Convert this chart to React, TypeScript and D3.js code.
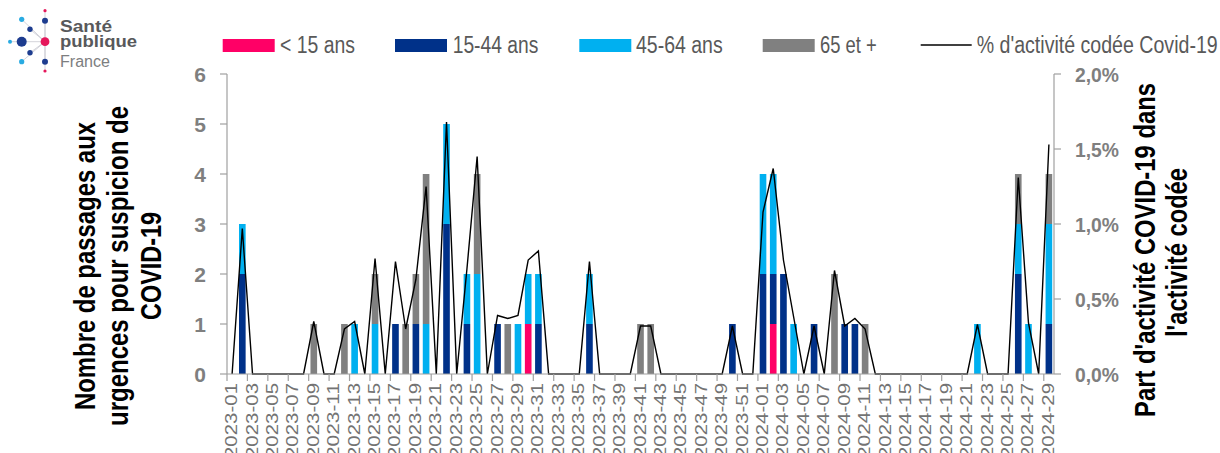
import React from 'react';
import * as d3 from 'd3';

// ---------- DATA ----------
const weeks: string[] = [
  ...d3.range(1, 53).map((w) => `2023-${String(w).padStart(2, '0')}`),
  ...d3.range(1, 30).map((w) => `2024-${String(w).padStart(2, '0')}`),
];

const under15 = [
  0, 0, 0, 0, 0, 0, 0, 0, 0, 0,
  0, 0, 0, 0, 0, 0, 0, 0, 0, 0,
  0, 0, 0, 0, 0, 0, 0, 0, 0, 1,
  0, 0, 0, 0, 0, 0, 0, 0, 0, 0,
  0, 0, 0, 0, 0, 0, 0, 0, 0, 0,
  0, 0, 0, 1, 0, 0, 0, 0, 0, 0,
  0, 0, 0, 0, 0, 0, 0, 0, 0, 0,
  0, 0, 0, 0, 0, 0, 0, 0, 0, 0,
  0,
];
const age15to44 = [
  0, 2, 0, 0, 0, 0, 0, 0, 0, 0,
  0, 0, 0, 0, 0, 0, 1, 0, 1, 0,
  0, 3, 0, 1, 0, 0, 1, 0, 0, 0,
  1, 0, 0, 0, 0, 1, 0, 0, 0, 0,
  0, 0, 0, 0, 0, 0, 0, 0, 0, 1,
  0, 0, 2, 1, 2, 0, 0, 1, 0, 0,
  1, 1, 0, 0, 0, 0, 0, 0, 0, 0,
  0, 0, 0, 0, 0, 0, 0, 2, 0, 0,
  1,
];
const age45to64 = [
  0, 1, 0, 0, 0, 0, 0, 0, 0, 0,
  0, 0, 1, 0, 1, 0, 0, 0, 0, 1,
  0, 2, 0, 1, 2, 0, 0, 0, 1, 1,
  1, 0, 0, 0, 0, 1, 0, 0, 0, 0,
  0, 0, 0, 0, 0, 0, 0, 0, 0, 0,
  0, 0, 2, 2, 0, 1, 0, 0, 0, 0,
  0, 0, 0, 0, 0, 0, 0, 0, 0, 0,
  0, 0, 0, 1, 0, 0, 0, 1, 1, 0,
  2,
];
const age65plus = [
  0, 0, 0, 0, 0, 0, 0, 0, 1, 0,
  0, 1, 0, 0, 1, 0, 0, 1, 1, 3,
  0, 0, 0, 0, 2, 0, 0, 1, 0, 0,
  0, 0, 0, 0, 0, 0, 0, 0, 0, 0,
  1, 1, 0, 0, 0, 0, 0, 0, 0, 0,
  0, 0, 0, 0, 0, 0, 0, 0, 0, 2,
  0, 0, 1, 0, 0, 0, 0, 0, 0, 0,
  0, 0, 0, 0, 0, 0, 0, 1, 0, 0,
  1,
];
// % d'activité codée Covid-19
const pctCovid = [
  0, 0.97, 0, 0, 0, 0, 0, 0, 0.35, 0,
  0, 0.30, 0.35, 0, 0.77, 0, 0.75, 0.30, 0.63, 1.25,
  0, 1.68, 0, 0.70, 1.45, 0, 0.39, 0.37, 0.39, 0.76,
  0.82, 0, 0, 0, 0, 0.75, 0, 0, 0, 0,
  0.32, 0.32, 0, 0, 0, 0, 0, 0, 0, 0.32,
  0, 0, 1.08, 1.37, 0.76, 0.38, 0, 0.32, 0, 0.69,
  0.32, 0.37, 0.30, 0, 0, 0, 0, 0, 0, 0,
  0, 0, 0, 0.33, 0, 0, 0, 1.31, 0.34, 0,
  1.53,
];

const seriesKeys = ['u15', 'a1544', 'a4564', 'a65'];
const seriesNames = ['< 15 ans', '15-44 ans', '45-64 ans', '65 et +'];
const seriesColors = ['#FF0066', '#003189', '#00B0F0', '#808080'];
const lineName = "% d'activité codée Covid-19";

const leftTicks = [0, 1, 2, 3, 4, 5, 6];
const rightTicks = [0, 0.5, 1, 1.5, 2];

const leftTitle = ['Nombre de passages aux', 'urgences pour suspicion de', 'COVID-19'];
const rightTitle = ["Part d'activité COVID-19 dans", "l'activité codée"];

// ---------- LAYOUT ----------
const W = 1220;
const H = 453;
const L = 227;
const R = 1054;
const T = 74;
const B = 374;
const FONT = "'Liberation Sans Narrow', 'Arial Narrow', 'Liberation Sans', Arial, sans-serif";
const AXIS = '#a0a0a0';

export default function App() {
  const x = d3
    .scaleBand<string>()
    .domain(weeks)
    .range([L, R])
    .paddingInner(0.35)
    .paddingOuter(0.175);
  const step = x.step();
  const y = d3.scaleLinear().domain([0, 6]).range([B, T]);
  const y2 = d3.scaleLinear().domain([0, 2]).range([B, T]);

  const rows = weeks.map((w, i) => ({
    week: w,
    u15: under15[i],
    a1544: age15to44[i],
    a4564: age45to64[i],
    a65: age65plus[i],
  }));
  const stacked = d3.stack<any>().keys(seriesKeys)(rows);

  const line = d3
    .line<number>()
    .x((_, i) => (x(weeks[i]) as number) + x.bandwidth() / 2)
    .y((d) => y2(d));

  const tickIdx = d3.range(0, weeks.length + 1, 2);

  const legendRects = [222.7, 395, 579.3, 762.7];
  const legendTexts = [
    { x: 280, len: 75 },
    { x: 452.7, len: 85.6 },
    { x: 636, len: 86.7 },
    { x: 820, len: 56.7 },
  ];

  return (
    <svg
      width={W}
      height={H}
      style={{ position: 'absolute', left: 0, top: 0, background: '#fff' }}
      fontFamily={FONT}
    >
      {/* Logo */}
      <g>
        {[
          [45, 10.7, 45, 41.7],
          [45, 20.7, 45, 41.7],
          [21.7, 19.3, 45, 41.7],
          [30, 29.3, 45, 41.7],
          [10, 41.7, 45, 41.7],
          [30, 52.7, 45, 41.7],
          [21.7, 61.7, 45, 41.7],
          [45, 61.7, 45, 41.7],
          [45, 71, 45, 41.7],
        ].map((l, i) => (
          <line key={i} x1={l[0]} y1={l[1]} x2={l[2]} y2={l[3]} stroke="#c8c8d0" strokeWidth={0.8} />
        ))}
        {[
          [45, 10.7, 1.6, '#e5175b'],
          [45, 20.7, 3, '#1d3c8f'],
          [21.7, 19.3, 2.6, '#29abe2'],
          [30, 29.3, 2.7, '#1d3c8f'],
          [10, 41.7, 2, '#29abe2'],
          [21.7, 41.7, 5, '#1d3c8f'],
          [45, 41.7, 4.4, '#e5175b'],
          [30, 52.7, 2.7, '#1d3c8f'],
          [21.7, 61.7, 2.6, '#29abe2'],
          [45, 61.7, 3, '#1d3c8f'],
          [45, 71, 1.6, '#e5175b'],
        ].map((c, i) => (
          <circle key={i} cx={c[0] as number} cy={c[1] as number} r={c[2] as number} fill={c[3] as string} />
        ))}
        <text x={60} y={31.5} fontSize={17} fontWeight="bold" fill="#58595b" textLength={52} lengthAdjust="spacingAndGlyphs">
          Santé
        </text>
        <text x={60} y={47} fontSize={17} fontWeight="bold" fill="#58595b" textLength={77} lengthAdjust="spacingAndGlyphs">
          publique
        </text>
        <text x={60} y={66.5} fontSize={16} fill="#7d7e80" textLength={50} lengthAdjust="spacingAndGlyphs">
          France
        </text>
      </g>

      {/* Legend */}
      {seriesNames.map((n, i) => (
        <g key={n}>
          <rect x={legendRects[i]} y={39} width={52} height={13} fill={seriesColors[i]} />
          <text
            x={legendTexts[i].x}
            y={53}
            fontSize={23}
            fill="#595959"
            textLength={legendTexts[i].len}
            lengthAdjust="spacingAndGlyphs"
          >
            {n}
          </text>
        </g>
      ))}
      <line x1={920.7} x2={971.7} y1={45} y2={45} stroke="#000" strokeWidth={1.4} />
      <text x={976.7} y={53} fontSize={23} fill="#595959" textLength={241} lengthAdjust="spacingAndGlyphs">
        {lineName}
      </text>

      {/* Bars */}
      {stacked.map((s, si) => (
        <g key={s.key} fill={seriesColors[si]}>
          {s.map((d, i) =>
            d[1] - d[0] > 0 ? (
              <rect
                key={i}
                x={x(weeks[i])}
                y={y(d[1])}
                width={x.bandwidth()}
                height={y(d[0]) - y(d[1])}
              />
            ) : null
          )}
        </g>
      ))}

      {/* Line */}
      <path d={line(pctCovid) || ''} fill="none" stroke="#000" strokeWidth={1.4} strokeLinejoin="miter" />

      {/* Axes */}
      <line x1={L} x2={L} y1={T} y2={B} stroke={AXIS} strokeWidth={1.2} />
      <line x1={R} x2={R} y1={T} y2={B} stroke={AXIS} strokeWidth={1.2} />
      <line x1={L} x2={R} y1={B} y2={B} stroke={AXIS} strokeWidth={1.2} />
      {leftTicks.map((t) => (
        <g key={t}>
          <line x1={L - 7} x2={L} y1={y(t)} y2={y(t)} stroke={AXIS} strokeWidth={1.2} />
          <text x={206} y={y(t) + 7.5} fontSize={21} fontWeight="bold" fill="#7f7f7f" textAnchor="end">
            {t}
          </text>
        </g>
      ))}
      {rightTicks.map((t) => (
        <g key={t}>
          <line x1={R} x2={R + 7} y1={y2(t)} y2={y2(t)} stroke={AXIS} strokeWidth={1.2} />
          <text
            x={1075}
            y={y2(t) + 7.5}
            fontSize={21}
            fontWeight="bold"
            fill="#7f7f7f"
            textLength={44}
            lengthAdjust="spacingAndGlyphs"
          >
            {d3.format('.1f')(t).replace('.', ',') + '%'}
          </text>
        </g>
      ))}
      {tickIdx.map((k) => (
        <line key={k} x1={L + k * step} x2={L + k * step} y1={B} y2={B + 7} stroke={AXIS} strokeWidth={1.2} />
      ))}
      {weeks.map((w, i) =>
        i % 2 === 0 ? (
          <text
            key={w}
            transform={`translate(${(x(w) as number) + x.bandwidth() / 2 + 5},383) rotate(-90)`}
            fontSize={16.5}
            fill="#737373"
            textAnchor="end"
            textLength={75}
            lengthAdjust="spacingAndGlyphs"
          >
            {w}
          </text>
        ) : null
      )}

      {/* Axis titles */}
      {leftTitle.map((t, i) => (
        <text
          key={t}
          transform={`translate(${[95, 128, 161][i]},266) rotate(-90)`}
          fontSize={29}
          fontWeight="bold"
          fill="#000"
          textAnchor="middle"
          textLength={[288, 320, 108][i]}
          lengthAdjust="spacingAndGlyphs"
        >
          {t}
        </text>
      ))}
      {rightTitle.map((t, i) => (
        <text
          key={t}
          transform={`translate(${[1155, 1187][i]},${[250, 252.5][i]}) rotate(-90)`}
          fontSize={29}
          fontWeight="bold"
          fill="#000"
          textAnchor="middle"
          textLength={[334, 169][i]}
          lengthAdjust="spacingAndGlyphs"
        >
          {t}
        </text>
      ))}
    </svg>
  );
}
